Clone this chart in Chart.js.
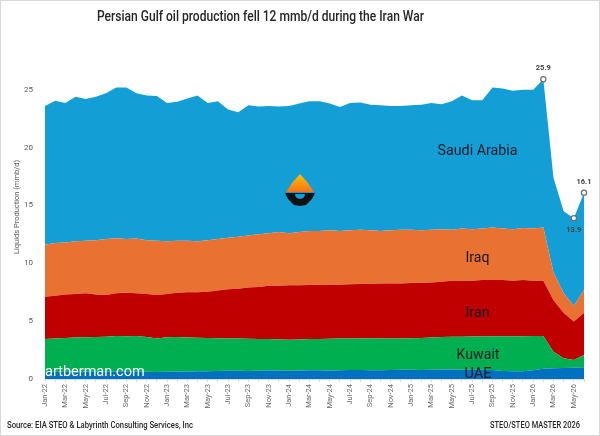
<!DOCTYPE html>
<html>
<head>
<meta charset="utf-8">
<script src="https://cdn.jsdelivr.net/npm/chart.js@4.4.1/dist/chart.umd.min.js"></script>
<style>
html,body{margin:0;padding:0;background:#fff;}
canvas{display:block;}
</style>
</head>
<body>
<canvas id="c" width="600" height="436"></canvas>
<script>
const months = ['Jan-22','Feb-22','Mar-22','Apr-22','May-22','Jun-22','Jul-22','Aug-22','Sep-22','Oct-22','Nov-22','Dec-22',
'Jan-23','Feb-23','Mar-23','Apr-23','May-23','Jun-23','Jul-23','Aug-23','Sep-23','Oct-23','Nov-23','Dec-23',
'Jan-24','Feb-24','Mar-24','Apr-24','May-24','Jun-24','Jul-24','Aug-24','Sep-24','Oct-24','Nov-24','Dec-24',
'Jan-25','Feb-25','Mar-25','Apr-25','May-25','Jun-25','Jul-25','Aug-25','Sep-25','Oct-25','Nov-25','Dec-25',
'Jan-26','Feb-26','Mar-26','Apr-26','May-26','Jun-26'];

const uae = [0.62,0.62,0.63,0.63,0.64,0.63,0.63,0.65,0.66,0.65,0.62,0.60,
0.62,0.65,0.63,0.66,0.68,0.70,0.72,0.72,0.70,0.72,0.74,0.74,
0.72,0.74,0.76,0.76,0.74,0.76,0.78,0.78,0.76,0.76,0.78,0.80,
0.80,0.78,0.80,0.82,0.82,0.80,0.80,0.80,0.78,0.70,0.68,0.66,
0.75,0.88,0.93,0.95,0.98,1.02];

const kuwait = [2.83,2.88,2.92,2.95,2.96,2.99,3.02,3.07,3.04,3.07,3.00,2.90,
2.98,2.97,2.95,2.90,2.87,2.82,2.78,2.78,2.78,2.73,2.71,2.68,
2.68,2.68,2.69,2.69,2.74,2.74,2.72,2.72,2.76,2.74,2.72,2.70,
2.72,2.77,2.78,2.80,2.84,2.86,2.88,2.88,2.92,3.00,3.02,3.04,
2.97,2.84,1.43,0.84,0.66,1.06];

const iran = [3.65,3.70,3.75,3.77,3.80,3.68,3.62,3.68,3.75,3.68,3.73,3.77,
3.75,3.83,3.92,3.94,4.00,4.13,4.25,4.30,4.42,4.50,4.60,4.63,
4.70,4.68,4.68,4.68,4.67,4.65,4.68,4.70,4.68,4.75,4.75,4.75,
4.78,4.75,4.77,4.78,4.82,4.84,4.82,4.87,4.86,4.85,4.80,4.85,
4.78,4.76,4.44,3.91,3.32,3.62];

const iraq = [4.50,4.55,4.50,4.55,4.55,4.70,4.83,4.77,4.65,4.75,4.65,4.68,
4.55,4.50,4.45,4.40,4.45,4.45,4.45,4.50,4.50,4.55,4.55,4.65,
4.50,4.60,4.67,4.67,4.70,4.65,4.67,4.70,4.65,4.55,4.60,4.65,
4.60,4.55,4.55,4.55,4.42,4.50,4.45,4.45,4.54,4.45,4.45,4.50,
4.50,4.62,2.40,1.70,1.34,2.00];

const saudi = [12.00,12.30,12.05,12.50,12.25,12.40,12.60,13.03,13.10,12.55,12.50,12.50,
11.95,12.00,12.30,12.60,11.85,11.90,11.10,10.75,11.25,11.05,11.00,10.85,
11.00,11.10,11.20,11.20,10.95,10.70,11.00,11.00,10.85,10.85,10.75,10.70,
10.75,10.85,10.95,10.80,11.10,11.50,11.15,11.10,12.10,12.10,11.95,11.95,
12.00,12.80,8.20,7.10,7.60,8.40];

const seriesNames = ['UAE','Kuwait','Iran','Iraq','Saudi Arabia'];
const seriesColors = ['#0070C0','#00B050','#C00000','#E97132','#139FD6'];
const totalLabels = ['25.9','13.9','16.1'];
const markedIdx = [49,52,53];
const yTicks = [0,5,10,15,20,25];

function fitText(ctx, text, x, y, targetW, font, color, align) {
  ctx.save();
  ctx.font = font;
  ctx.fillStyle = color;
  ctx.textBaseline = 'middle';
  const w = ctx.measureText(text).width;
  const s = targetW / w;
  let x0 = x;
  if (align === 'center') x0 = x - targetW / 2;
  else if (align === 'right') x0 = x - targetW;
  ctx.translate(x0, y);
  ctx.scale(s, 1);
  ctx.textAlign = 'left';
  ctx.fillText(text, 0, 0);
  ctx.restore();
}

const decor = {
  id: 'decor',
  beforeDraw(chart) {
    const ctx = chart.ctx;
    ctx.save();
    ctx.fillStyle = '#fff';
    ctx.fillRect(0, 0, chart.width, chart.height);
    ctx.strokeStyle = '#d9d9d9';
    ctx.lineWidth = 1;
    ctx.strokeRect(0.5, 0.5, chart.width - 1, chart.height - 1);
    ctx.restore();
  },
  afterDatasetsDraw(chart) {
    const ctx = chart.ctx;
    const meta = chart.getDatasetMeta(4);
    const dark = '#111827';
    fitText(ctx, 'Saudi Arabia', 477.5, 151, 80, '15px Roboto', dark, 'center');
    fitText(ctx, 'Iraq', 477.5, 258, 24, '15px Roboto', dark, 'center');
    fitText(ctx, 'Iran', 477.5, 313, 24, '15px Roboto', dark, 'center');
    fitText(ctx, 'Kuwait', 478, 355, 43, '15px Roboto', dark, 'center');
    fitText(ctx, 'UAE', 478, 374, 27, '15px Roboto', dark, 'center');
    ctx.save();
    // watermark
    ctx.textAlign = 'left';
    ctx.textBaseline = 'middle';
    ctx.fillStyle = '#ffffff';
    ctx.font = '14.5px Roboto';
    ctx.fillText('artberman.com', 45, 372);
    // logo
    const lx = 300, ly = 174;
    const g = ctx.createLinearGradient(lx, ly, lx, ly + 20);
    g.addColorStop(0, '#FFC000');
    g.addColorStop(1, '#F26B1D');
    ctx.fillStyle = g;
    ctx.beginPath();
    ctx.moveTo(lx, ly);
    ctx.quadraticCurveTo(lx + 8, ly + 8, lx + 14, ly + 18);
    ctx.lineTo(lx - 14, ly + 18);
    ctx.quadraticCurveTo(lx - 8, ly + 8, lx, ly);
    ctx.fill();
    ctx.fillStyle = '#111';
    ctx.beginPath();
    ctx.moveTo(lx - 15, ly + 19);
    ctx.lineTo(lx + 15, ly + 19);
    ctx.lineTo(lx + 12, ly + 25);
    ctx.lineTo(lx + 6, ly + 31);
    ctx.lineTo(lx, ly + 32);
    ctx.lineTo(lx - 6, ly + 31);
    ctx.lineTo(lx - 12, ly + 25);
    ctx.closePath();
    ctx.fill();
    ctx.fillStyle = '#139FD6';
    ctx.beginPath();
    ctx.arc(lx, ly + 20, 5, 0, Math.PI);
    ctx.fill();
    // total labels
    ctx.fillStyle = '#404040';
    ctx.font = 'bold 7.5px Roboto';
    ctx.textAlign = 'center';
    markedIdx.forEach((idx, k) => {
      const p = meta.data[idx];
      const below = k === 1;
      ctx.fillText(totalLabels[k], p.x, below ? p.y + 12 : p.y - 11);
    });
    ctx.restore();
  },
  afterDraw(chart) {
    const ctx = chart.ctx;
    fitText(ctx, 'Persian Gulf oil production fell 12 mmb/d during the Iran War', 260.5, 17, 327, '500 14px Roboto', '#262626', 'center');
    ctx.save();
    ctx.translate(17, 207);
    ctx.rotate(-Math.PI / 2);
    ctx.fillStyle = '#595959';
    ctx.font = '7.5px Roboto';
    ctx.textAlign = 'center';
    ctx.textBaseline = 'middle';
    ctx.fillText('Liquids Production (mmb/d)', 0, 0);
    ctx.restore();
    fitText(ctx, 'Source: EIA STEO & Labyrinth Consulting Services, Inc', 7, 426, 186, '500 9px Roboto', '#262626', 'left');
    fitText(ctx, 'STEO/STEO MASTER 2026', 580, 426, 90, '500 9px Roboto', '#262626', 'right');
  }
};

const datasets = [uae, kuwait, iran, iraq, saudi].map((d, i) => ({
  label: seriesNames[i],
  data: d,
  backgroundColor: seriesColors[i],
  borderColor: seriesColors[i],
  borderWidth: 0,
  fill: i === 0 ? 'origin' : '-1',
  tension: 0,
  pointRadius: i === 4 ? (c => markedIdx.includes(c.dataIndex) ? 2.6 : 0) : 0,
  pointHoverRadius: 0,
  pointBackgroundColor: '#ffffff',
  pointBorderColor: '#6b6b6b',
  pointBorderWidth: 1.2,
  clip: i === 4 ? 8 : undefined
}));

new Chart(document.getElementById('c'), {
  type: 'line',
  data: { labels: months, datasets },
  plugins: [decor],
  options: {
    responsive: false,
    animation: false,
    devicePixelRatio: 1,
    layout: { padding: { left: 0, right: 16, top: 55, bottom: 0 } },
    plugins: { legend: { display: false }, tooltip: { enabled: false }, title: { display: false } },
    scales: {
      x: {
        stacked: true,
        offset: false,
        afterFit: s => { s.height = 57; },
        grid: { display: true, drawOnChartArea: false, drawTicks: true, tickLength: 3, color: '#d9d9d9' },
        border: { display: true, color: '#d9d9d9' },
        ticks: {
          autoSkip: false,
          maxRotation: 90,
          minRotation: 90,
          padding: 2,
          color: '#6b6b6b',
          font: { family: 'Roboto', size: 7.5 },
          callback: function (v, i) { return i % 2 === 0 ? months[i] : ''; }
        }
      },
      y: {
        stacked: true,
        min: 0,
        max: 28,
        afterFit: s => { s.width = 45; },
        afterBuildTicks: s => { s.ticks = yTicks.map(v => ({ value: v })); },
        grid: { display: false, drawTicks: false },
        border: { display: false },
        ticks: {
          padding: 12,
          color: '#595959',
          font: { family: 'Roboto', size: 8 }
        }
      }
    }
  }
});
</script>
</body>
</html>
